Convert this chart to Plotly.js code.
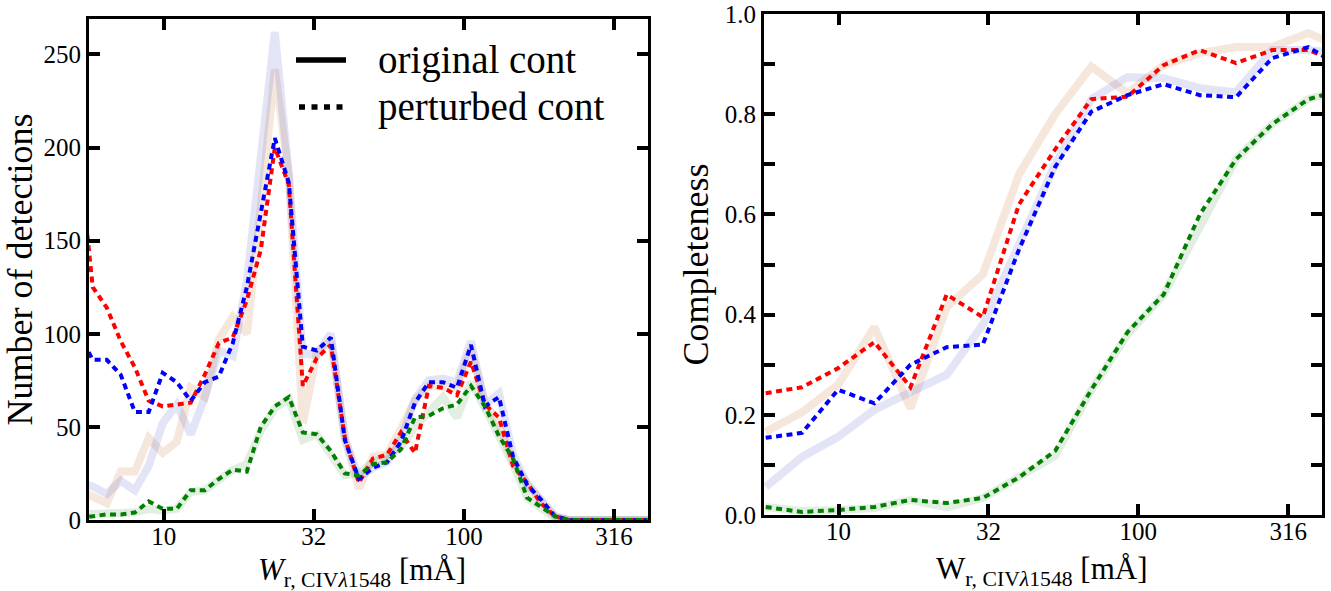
<!DOCTYPE html>
<html><head><meta charset="utf-8">
<script src="https://cdn.plot.ly/plotly-3.0.1.min.js"></script>
<style>html,body{margin:0;padding:0;background:#fff}#chart{width:1331px;height:591px}</style>
</head><body><div id="chart"></div>
<script>
// ---- Left panel: number of detections vs W (log bins) ----
const leftW = [5.21, 5.80, 6.46, 7.19, 8.01, 8.91, 9.92, 11.05, 12.30, 13.70, 15.25, 16.98, 18.91, 21.05,
  23.44, 26.10, 29.06, 32.36, 36.03, 40.11, 44.67, 49.74, 55.38, 61.66, 68.66, 76.44, 85.11, 94.77,
  105.5, 117.5, 130.8, 145.7, 162.2, 180.6, 201.1, 223.9, 249.3, 277.5, 309.0, 344.1, 383.1, 426.6];
const leftRedOrig   = [16, 12, 9, 26, 26, 44, 36, 42, 71, 66, 97, 109, 100, 168, 242, 185, 52, 90, 96, 45, 17,
  34, 35, 49, 64, 72, 71, 71, 92, 63, 51, 31, 20, 10, 2, 0, 0, 0, 0, 0, 0, 0];
const leftBlueOrig  = [20, 18, 14, 21, 16, 29, 52, 62, 46, 66, 91, 88, 128, 195, 262, 185, 89, 89, 100, 43, 23,
  28, 31, 43, 65, 75, 76, 74, 96, 62, 68, 35, 19, 11, 2, 0, 0, 0, 0, 0, 0, 0];
const leftGreenOrig = [3, 3, 3, 3, 4, 6, 5, 6, 15, 16, 22, 27, 30, 48, 60, 65, 43, 46, 35, 24, 25,
  31, 34, 39, 50, 58, 66, 55, 74, 60, 45, 30, 12, 6, 1, 0, 0, 0, 0, 0, 0, 0];
const leftRedPert   = [198, 125, 114, 96, 82, 64, 61, 62, 63, 78, 95, 98, 118, 145, 200, 180, 72, 87, 94, 44, 20,
  33, 35, 47, 36, 72, 71, 67, 85, 62, 55, 29, 20, 9, 2, 0, 0, 0, 0, 0, 0, 0];
const leftBluePert  = [100, 86, 86, 78, 58, 58, 79, 74, 64, 74, 77, 95, 125, 165, 205, 181, 93, 91, 98, 43, 22,
  28, 31, 42, 63, 74, 74, 71, 94, 61, 66, 34, 19, 11, 2, 0, 0, 0, 0, 0, 0, 0];
const leftGreenPert = [1, 2, 3, 3, 4, 10, 6, 6, 16, 16, 22, 27, 26, 50, 61, 66, 47, 46, 37, 25, 24,
  30, 31, 38, 55, 56, 60, 62, 72, 61, 45, 33, 12, 7, 2, 0, 0, 0, 0, 0, 0, 0];

// ---- Right panel: completeness vs W ----
const rightW = [5.71, 7.55, 9.96, 13.16, 17.37, 22.94, 30.28, 39.99, 52.80, 69.71, 92.05, 121.5, 160.5, 211.9, 279.8, 369.4, 487.8];
const rightRedOrig   = [0.166, 0.205, 0.26, 0.375, 0.213, 0.415, 0.48, 0.68, 0.80, 0.895, 0.842, 0.898, 0.922, 0.934, 0.934, 0.962, 0.93];
const rightBlueOrig  = [0.056, 0.116, 0.156, 0.21, 0.245, 0.28, 0.38, 0.54, 0.70, 0.83, 0.874, 0.872, 0.852, 0.844, 0.928, 0.928, 0.92];
const rightGreenOrig = [0.016, 0.008, 0.01, 0.014, 0.03, 0.015, 0.034, 0.075, 0.118, 0.25, 0.36, 0.44, 0.575, 0.71, 0.78, 0.83, 0.85];
const rightRedPert   = [0.243, 0.255, 0.293, 0.345, 0.255, 0.44, 0.395, 0.62, 0.73, 0.83, 0.835, 0.898, 0.928, 0.902, 0.928, 0.928, 0.90];
const rightBluePert  = [0.154, 0.164, 0.25, 0.223, 0.30, 0.335, 0.34, 0.53, 0.695, 0.805, 0.838, 0.86, 0.838, 0.834, 0.912, 0.934, 0.89];
const rightGreenPert = [0.016, 0.006, 0.01, 0.016, 0.03, 0.024, 0.034, 0.075, 0.128, 0.25, 0.365, 0.44, 0.60, 0.71, 0.78, 0.83, 0.85];

const xTickVals = [10, 31.6228, 100, 316.228];
const xTickText = ['10', '32', '100', '316'];
const leftYTicks = [0, 50, 100, 150, 200, 250];

const FONT = 'Liberation Serif, DejaVu Serif, serif';
const W = 1331, H = 591;
const px = x => x / W, py = y => 1 - y / H;

const faint = {red: 'rgba(200,120,60,0.18)', blue: 'rgba(60,70,200,0.14)', green: 'rgba(40,120,40,0.13)'};
const strong = {red: '#ff0000', blue: '#0000ff', green: '#008000'};
const DASH = '6px,4.5px';

function solid(x, y, c, xa, ya) {
  return {x, y, xaxis: xa, yaxis: ya, mode: 'lines', line: {color: faint[c], width: 8}, hoverinfo: 'skip', showlegend: false};
}
function dotted(x, y, c, xa, ya) {
  return {x, y, xaxis: xa, yaxis: ya, mode: 'lines', line: {color: strong[c], width: 4, dash: DASH}, hoverinfo: 'skip', showlegend: false};
}

const data = [
  solid(leftW, leftRedOrig, 'red', 'x', 'y'),
  solid(leftW, leftBlueOrig, 'blue', 'x', 'y'),
  solid(leftW, leftGreenOrig, 'green', 'x', 'y'),
  dotted(leftW, leftRedPert, 'red', 'x', 'y'),
  dotted(leftW, leftBluePert, 'blue', 'x', 'y'),
  dotted(leftW, leftGreenPert, 'green', 'x', 'y'),
  solid(rightW, rightRedOrig, 'red', 'x2', 'y2'),
  solid(rightW, rightBlueOrig, 'blue', 'x2', 'y2'),
  solid(rightW, rightGreenOrig, 'green', 'x2', 'y2'),
  dotted(rightW, rightRedPert, 'red', 'x2', 'y2'),
  dotted(rightW, rightBluePert, 'blue', 'x2', 'y2'),
  dotted(rightW, rightGreenPert, 'green', 'x2', 'y2')
];

const tickStyle = {ticks: 'inside', ticklen: 11, tickwidth: 4, tickcolor: '#000', showline: true, linewidth: 3,
  linecolor: '#000', mirror: 'ticks', showgrid: false, zeroline: false,
  tickfont: {family: FONT, size: 25, color: '#000'}};

const layout = {
  width: W, height: H, margin: {l: 0, r: 0, t: 0, b: 0},
  paper_bgcolor: '#fff', plot_bgcolor: '#fff', showlegend: false,
  font: {family: FONT, color: '#000'},
  xaxis: Object.assign({}, tickStyle, {type: 'log', range: [0.751, 2.613], domain: [px(89), px(648)], anchor: 'y',
    tickmode: 'array', tickvals: xTickVals, ticktext: xTickText, ticklabelstandoff: -8}),
  yaxis: Object.assign({}, tickStyle, {range: [0, 269], domain: [py(520), py(19)], anchor: 'x',
    tickmode: 'array', tickvals: leftYTicks,
    title: {text: 'Number of detections', font: {family: FONT, size: 36, color: '#000'}, standoff: 4}}),
  xaxis2: Object.assign({}, tickStyle, {type: 'log', range: [0.751, 2.613], domain: [px(764), px(1322)], anchor: 'y2',
    tickmode: 'array', tickvals: xTickVals, ticktext: xTickText, ticklabelstandoff: -8}),
  yaxis2: Object.assign({}, tickStyle, {range: [0, 1.0], domain: [py(515), py(14)], anchor: 'x2',
    dtick: 0.2, tick0: 0, tickformat: '.1f',
    minor: {dtick: 0.1, tick0: 0, ticks: 'inside', ticklen: 11, tickwidth: 4, tickcolor: '#000'},
    title: {text: 'Completeness', font: {family: FONT, size: 36, color: '#000'}, standoff: 6}}),
  shapes: [
    {type: 'line', xref: 'paper', yref: 'paper', x0: px(296), x1: px(346), y0: py(60), y1: py(60),
      line: {color: '#000', width: 5.5}},
    {type: 'line', xref: 'paper', yref: 'paper', x0: px(299), x1: px(345), y0: py(107), y1: py(107),
      line: {color: '#000', width: 5.5, dash: '6px,6.5px'}}
  ],
  annotations: [
    {xref: 'paper', yref: 'paper', x: px(376), y: py(60), xanchor: 'left', yanchor: 'middle', showarrow: false,
      text: 'original cont', font: {family: FONT, size: 39, color: '#000'}},
    {xref: 'paper', yref: 'paper', x: px(376), y: py(107), xanchor: 'left', yanchor: 'middle', showarrow: false,
      text: 'perturbed cont', font: {family: FONT, size: 39, color: '#000'}},
    {xref: 'paper', yref: 'paper', x: px(362), y: py(594), xanchor: 'center', yanchor: 'bottom', showarrow: false,
      text: '<i>W</i><sub>r, CIV<i>λ</i>1548</sub> [mÅ]', font: {family: FONT, size: 31, color: '#000'}},
    {xref: 'paper', yref: 'paper', x: px(1042), y: py(593), xanchor: 'center', yanchor: 'bottom', showarrow: false,
      text: 'W<sub>r, CIV<i>λ</i>1548</sub> [mÅ]', font: {family: FONT, size: 31, color: '#000'}}
  ]
};

Plotly.newPlot('chart', data, layout, {staticPlot: true, displayModeBar: false});
</script>
</body></html>
